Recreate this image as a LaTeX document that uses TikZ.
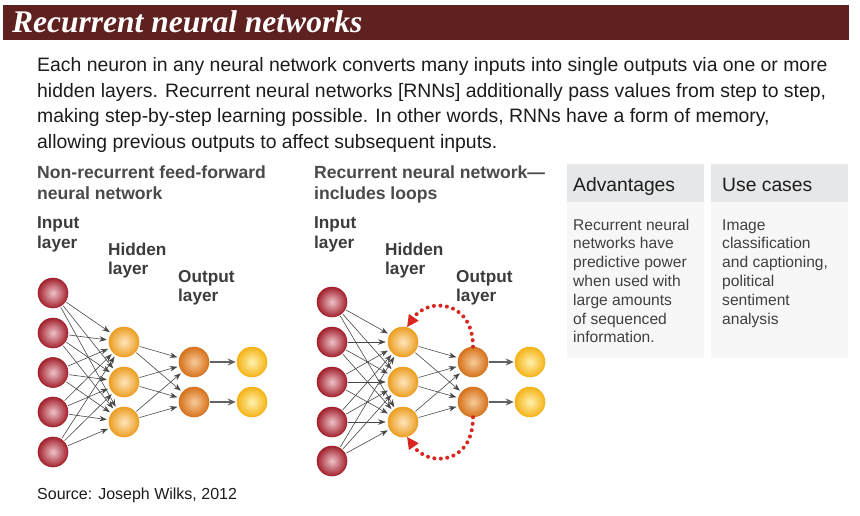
\documentclass[tikz,border=0pt]{standalone}
\usepackage{fontspec}
\setmainfont{Liberation Sans}
\newfontfamily\titlefont{Liberation Serif}
\usetikzlibrary{arrows.meta}
\definecolor{barred}{HTML}{5E2120}
\definecolor{bodytxt}{HTML}{1C1C1C}
\definecolor{subtxt}{HTML}{4A4A4A}
\definecolor{laytxt}{HTML}{3C3C3C}
\definecolor{boxtxt}{HTML}{404040}
\definecolor{hdrfill}{HTML}{E6E7E9}
\definecolor{bodyfill}{HTML}{F7F7F7}
\definecolor{conncol}{HTML}{474747}
\definecolor{loopred}{HTML}{D9261E}
\definecolor{inO}{HTML}{A3222E}\definecolor{inI}{HTML}{EDC3C8}
\definecolor{hidO}{HTML}{EC9E22}\definecolor{hidI}{HTML}{FDE6BE}
\definecolor{outO}{HTML}{D6731D}\definecolor{outI}{HTML}{F8CB9A}
\definecolor{finO}{HTML}{F5B417}\definecolor{finI}{HTML}{FFF1B0}
\tikzset{
  neuron/.style={circle, minimum size=30pt, inner sep=0pt, line width=0.6pt},
  inneuron/.style={neuron, draw=inO, shading=radial, inner color=inI, outer color=inO},
  hidneuron/.style={neuron, draw=hidO, shading=radial, inner color=hidI, outer color=hidO},
  outneuron/.style={neuron, draw=outO, shading=radial, inner color=outI, outer color=outO},
  finneuron/.style={neuron, draw=finO, shading=radial, inner color=finI, outer color=finO},
  conn/.style={draw=conncol, line width=0.6pt, -{Stealth[length=7.5pt,width=5.5pt]}, shorten >=2pt, shorten <=1pt},
  finconn/.style={draw=conncol!85, line width=1.3pt, -{Stealth[length=8pt,width=7pt]}, shorten >=1pt, shorten <=0.5pt},
  loopline/.style={draw=loopred, line width=4pt, dash pattern=on 0pt off 6.5pt, line cap=round, -{Triangle[length=12pt,width=11pt]}},
  bodyline/.style={anchor=base west, text=bodytxt, font=\fontsize{19.4}{24}\selectfont, inner sep=0pt},
  subhead/.style={anchor=base west, text=subtxt, font=\bfseries\fontsize{17.6}{20}\selectfont, inner sep=0pt},
  layerlbl/.style={anchor=base west, text=laytxt, font=\bfseries\fontsize{17.2}{19.5}\selectfont, inner sep=0pt, align=left},
  boxhead/.style={anchor=base west, text=bodytxt, font=\fontsize{19.3}{22}\selectfont, inner sep=0pt},
  boxbody/.style={anchor=base west, text=boxtxt, font=\fontsize{15.6}{18.8}\selectfont, inner sep=0pt, align=left},
}
\begin{document}
\begin{tikzpicture}[x=1pt,y=-1pt]
\useasboundingbox (0,0) rectangle (860,515);
\fill[white] (0,0) rectangle (860,515);
% title bar
\fill[barred] (3,5) rectangle (849,40);
\node[anchor=base west, inner sep=0pt, text=white, font=\titlefont\bfseries\itshape\fontsize{31.5}{31.5}\selectfont] (title) at (12,32.5) {Recurrent neural networks};
% intro paragraph
\node[bodyline] (l1) at (37,71.5) {Each neuron in any neural network converts many inputs into single outputs via one or more};
\node[bodyline] (l2) at (37,97) {hidden layers. Recurrent neural networks [RNNs] additionally pass values from step to step,};
\node[bodyline] (l3) at (37,122.5) {making step-by-step learning possible. In other words, RNNs have a form of memory,};
\node[bodyline] (l4) at (37,148) {allowing previous outputs to affect subsequent inputs.};
% subheadings
\node[subhead] (s1a) at (37,178.5) {Non-recurrent feed-forward};
\node[subhead] (s1b) at (37,199) {neural network};
\node[subhead] (s2a) at (314,178.5) {Recurrent neural network—};
\node[subhead] (s2b) at (314,199) {includes loops};
% layer labels left (base anchor = last line)
\node[layerlbl] (inL) at (37,248) {Input\\layer};
\node[layerlbl] (hidL) at (108,274.5) {Hidden\\layer};
\node[layerlbl] (outL) at (178,301.5) {Output\\layer};
% layer labels right
\node[layerlbl] (inR) at (314,248) {Input\\layer};
\node[layerlbl] (hidR) at (385,274.5) {Hidden\\layer};
\node[layerlbl] (outR) at (456,301.5) {Output\\layer};
% left network
\foreach \i/\y in {1/293,2/333,3/372.5,4/412,5/452} \node[inneuron] (a\i) at (53,\y) {};
\foreach \i/\y in {1/342,2/382,3/422} \node[hidneuron] (b\i) at (124,\y) {};
\foreach \i/\y in {1/362,2/402} \node[outneuron] (c\i) at (194,\y) {};
\foreach \i/\y in {1/362,2/402} \node[finneuron] (d\i) at (252,\y) {};
\foreach \i in {1,...,5} \foreach \j in {1,2,3} \draw[conn] (a\i) -- (b\j);
\foreach \i in {1,2,3} \foreach \j in {1,2} \draw[conn] (b\i) -- (c\j);
\foreach \i in {1,2} \draw[finconn] (c\i) -- (d\i);
% right network
\foreach \i/\y in {1/302,2/342,3/382,4/422,5/461} \node[inneuron] (p\i) at (332,\y) {};
\foreach \i/\y in {1/342,2/382,3/422} \node[hidneuron] (q\i) at (403,\y) {};
\foreach \i/\y in {1/362,2/402} \node[outneuron] (r\i) at (473,\y) {};
\foreach \i/\y in {1/362,2/402} \node[finneuron] (t\i) at (530,\y) {};
\foreach \i in {1,...,5} \foreach \j in {1,2,3} \draw[conn] (p\i) -- (q\j);
\foreach \i in {1,2,3} \foreach \j in {1,2} \draw[conn] (q\i) -- (r\j);
\foreach \i in {1,2} \draw[finconn] (r\i) -- (t\i);
% recurrent loops
\draw[loopline] (r1.north) .. controls (473,300) and (428,297) .. (q1.75);
\draw[loopline] (r2.south) .. controls (473,465) and (428,467) .. (q3.-75);
% info boxes
\fill[hdrfill] (567,164) rectangle (704,202);
\fill[bodyfill] (567,202) rectangle (704,358);
\fill[hdrfill] (711,164) rectangle (848,202);
\fill[bodyfill] (711,202) rectangle (848,358);
\node[boxhead] (advh) at (573,191) {Advantages};
\node[boxhead] (useh) at (722,191) {Use cases};
\node[boxbody] (advb) at (573,342.8) {Recurrent neural\\networks have\\predictive power\\when used with\\large amounts\\of sequenced\\information.};
\node[boxbody] (useb) at (722,324) {Image\\classification\\and captioning,\\political\\sentiment\\analysis};
% source
\node[anchor=base west, inner sep=0pt, text=bodytxt, font=\fontsize{16}{19}\selectfont] (src) at (37,499) {Source: Joseph Wilks, 2012};
\end{tikzpicture}
\end{document}
